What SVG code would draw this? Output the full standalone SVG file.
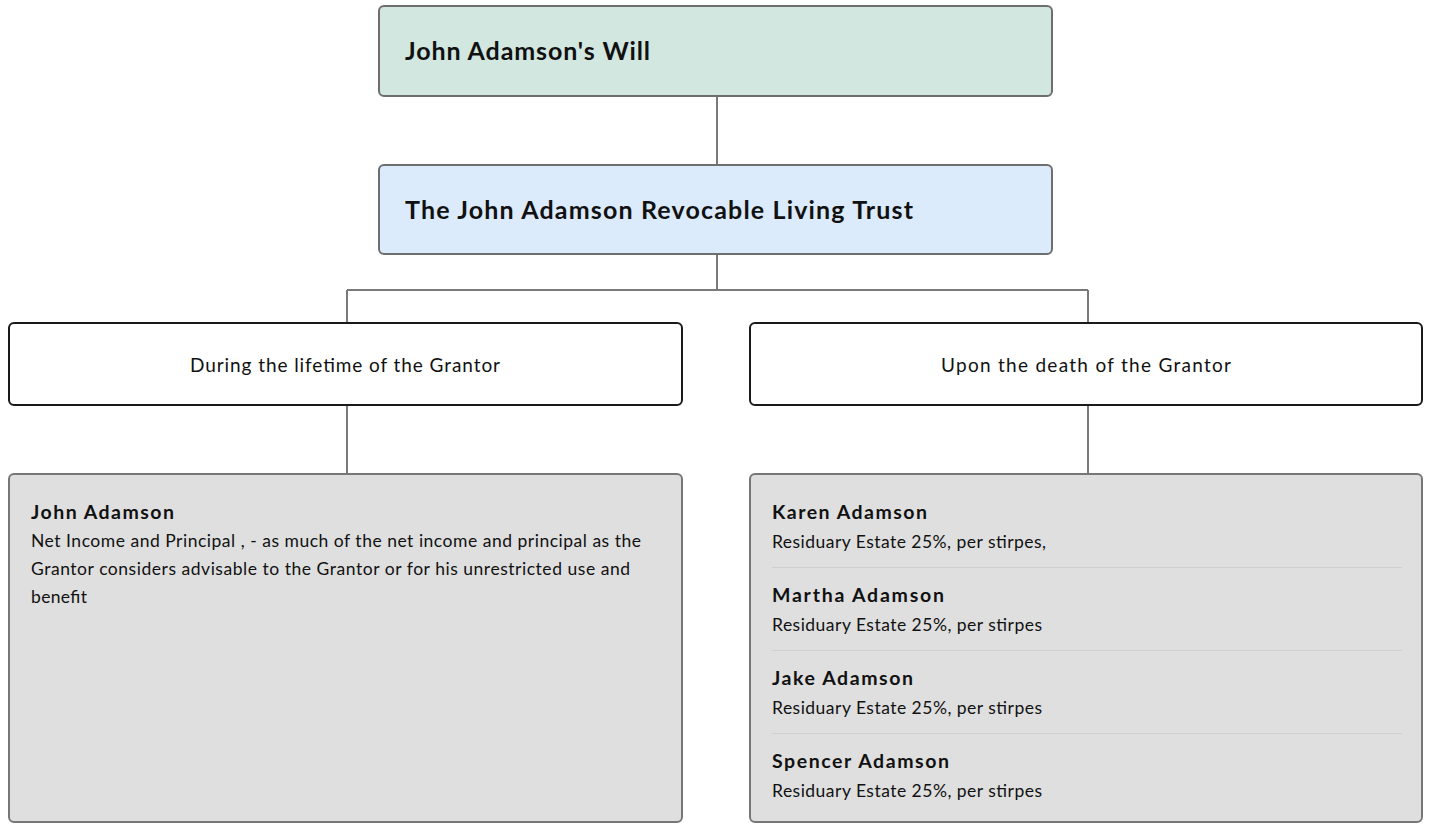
<svg xmlns="http://www.w3.org/2000/svg" width="1429" height="824" viewBox="0 0 1429 824">
<style>
.t{font-family:Lato,"Liberation Sans",sans-serif;fill:#111}
.h{font-weight:700}
.big{font-size:25px}
.mid{font-size:19px}
.nm{font-size:19.5px;font-weight:700}
.tx{font-size:17.5px}
.top{stroke:#6e6e6e;stroke-width:2}
.wb{fill:#fff;stroke:#1a1a1a;stroke-width:2}
.gb{fill:#dfdfdf;stroke:#777;stroke-width:2}
.sep{stroke:#cfcfcf;stroke-width:1}
.c{fill:none;stroke:#7a7a7a;stroke-width:2}
</style>
<rect width="1429" height="824" fill="#fff"/>
<g id="connectors">
<path class="c" d="M717 96V165"/>
<path class="c" d="M717 254V290M347 290H1088M347 290V323M1088 290V323"/>
<path class="c" d="M347 405V474"/>
<path class="c" d="M1088 405V474"/>
</g>
<g id="will">
<rect class="top" x="379" y="6" width="673" height="90" rx="5" fill="#d1e7df"/>
<text class="t h big" x="405" y="60" textLength="245">John Adamson's Will</text>
</g>
<g id="trust">
<rect class="top" x="379" y="165" width="673" height="89" rx="5" fill="#dcebfb"/>
<text class="t h big" x="405" y="219" textLength="508">The John Adamson Revocable Living Trust</text>
</g>
<g id="lifetime">
<rect class="wb" x="9" y="323" width="673" height="82" rx="5"/>
<text class="t mid" x="190" y="372" textLength="310">During the lifetime of the Grantor</text>
</g>
<g id="death">
<rect class="wb" x="750" y="323" width="672" height="82" rx="5"/>
<text class="t mid" x="941" y="372" textLength="290">Upon the death of the Grantor</text>
</g>
<g id="lifetime-beneficiary">
<rect class="gb" x="9" y="474" width="673" height="348" rx="5"/>
<text class="t nm" x="31" y="519" textLength="143">John Adamson</text>
<text class="t tx" x="31" y="547" textLength="610">Net Income and Principal , - as much of the net income and principal as the</text>
<text class="t tx" x="31" y="575" textLength="599">Grantor considers advisable to the Grantor or for his unrestricted use and</text>
<text class="t tx" x="31" y="603" textLength="56">benefit</text>
</g>
<g id="death-beneficiaries">
<rect class="gb" x="750" y="474" width="672" height="348" rx="5"/>
<text class="t nm" x="772" y="519" textLength="155">Karen Adamson</text>
<text class="t tx" x="772" y="548" textLength="274">Residuary Estate 25%, per stirpes,</text>
<line class="sep" x1="772" y1="567.5" x2="1402" y2="567.5"/>
<text class="t nm" x="772" y="602" textLength="172">Martha Adamson</text>
<text class="t tx" x="772" y="631" textLength="270">Residuary Estate 25%, per stirpes</text>
<line class="sep" x1="772" y1="650.5" x2="1402" y2="650.5"/>
<text class="t nm" x="772" y="685" textLength="141">Jake Adamson</text>
<text class="t tx" x="772" y="714" textLength="270">Residuary Estate 25%, per stirpes</text>
<line class="sep" x1="772" y1="733.5" x2="1402" y2="733.5"/>
<text class="t nm" x="772" y="768" textLength="177">Spencer Adamson</text>
<text class="t tx" x="772" y="797" textLength="270">Residuary Estate 25%, per stirpes</text>
</g>
</svg>
